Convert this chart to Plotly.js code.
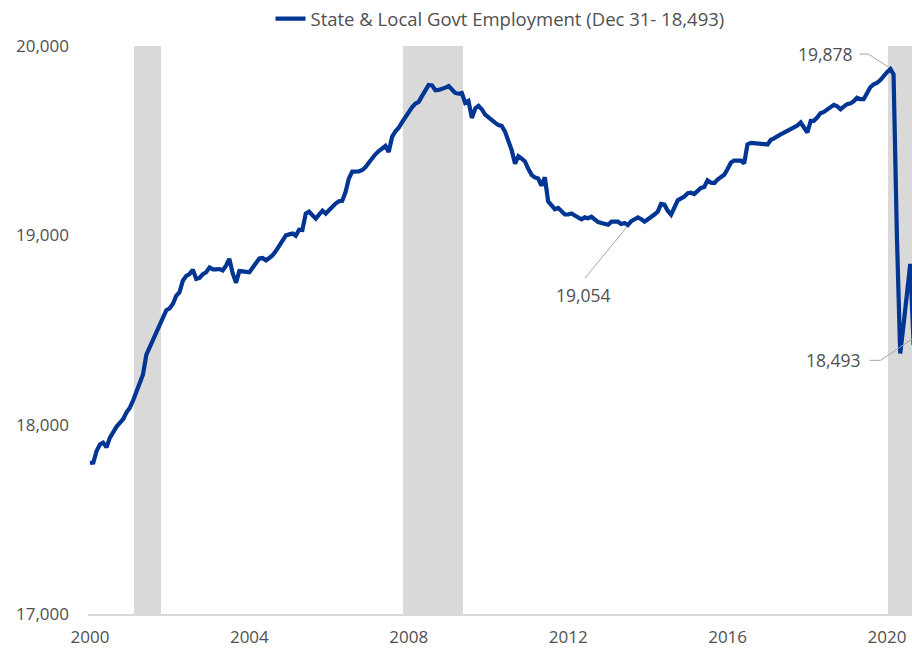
<!DOCTYPE html>
<html>
<head>
<meta charset="utf-8">
<script src="https://cdn.plot.ly/plotly-3.0.1.min.js"></script>
<style>html,body{margin:0;padding:0;background:#fff;}#chart{width:912px;height:651px;}</style>
</head>
<body>
<div id="chart"></div>
<script>
// Monthly State & Local Government employment (thousands), Jan 2000 - Dec 2020
const startYear = 2000;
const employment = [
  // 2000
  17798, 17800, 17860, 17895, 17905, 17880, 17930, 17965, 17990, 18010, 18030, 18065,
  // 2001
  18090, 18130, 18170, 18220, 18265, 18370, 18410, 18440, 18480, 18520, 18575, 18605,
  // 2002
  18615, 18640, 18680, 18700, 18760, 18785, 18795, 18818, 18770, 18775, 18795, 18805,
  // 2003
  18830, 18820, 18820, 18822, 18815, 18840, 18876, 18800, 18750, 18812, 18810, 18808,
  // 2004
  18805, 18830, 18855, 18878, 18880, 18868, 18880, 18895, 18918, 18945, 18975, 19000,
  // 2005
  19005, 19010, 18998, 19030, 19028, 19115, 19125, 19105, 19088, 19110, 19130, 19115,
  // 2006
  19135, 19155, 19168, 19180, 19182, 19230, 19300, 19337, 19335, 19338, 19345, 19360,
  // 2007
  19385, 19410, 19428, 19445, 19462, 19472, 19440, 19520, 19550, 19568, 19598, 19625,
  // 2008
  19650, 19678, 19695, 19705, 19735, 19765, 19794, 19792, 19766, 19768, 19772, 19780,
  // 2009
  19788, 19770, 19752, 19748, 19752, 19700, 19710, 19620, 19670, 19684, 19665, 19638,
  // 2010
  19622, 19608, 19595, 19583, 19578, 19548, 19505, 19450, 19378, 19418, 19405, 19390,
  // 2011
  19350, 19318, 19306, 19300, 19262, 19306, 19180, 19155, 19138, 19145, 19128, 19110,
  // 2012
  19110, 19115, 19105, 19095, 19085, 19095, 19090, 19098, 19085, 19070, 19065, 19060,
  // 2013
  19056, 19072, 19072, 19072, 19060, 19065, 19054, 19075, 19085, 19095, 19085, 19072,
  // 2014
  19085, 19095, 19110, 19125, 19166, 19162, 19130, 19109, 19150, 19185, 19195, 19205,
  // 2015
  19222, 19225, 19218, 19238, 19250, 19255, 19290, 19278, 19276, 19295, 19305, 19320,
  // 2016
  19350, 19385, 19395, 19397, 19395, 19380, 19480, 19488, 19487, 19485, 19488, 19482,
  // 2017
  19480, 19505, 19512, 19520, 19533, 19542, 19552, 19560, 19568, 19580, 19596, 19570,
  // 2018
  19543, 19605, 19605, 19622, 19645, 19652, 19663, 19680, 19689, 19682, 19666, 19680,
  // 2019
  19693, 19697, 19708, 19727, 19719, 19719, 19755, 19782, 19798, 19805, 19820, 19845,
  // 2020
  19862, 19878, 19850, 18990, 18376, 18530, 18690, 18849, 18420, 18460, 18480, 18493
];
const seriesName = 'State & Local Govt Employment (Dec 31- 18,493)';
const xTickLabels = ['2000', '2004', '2008', '2012', '2016', '2020'];
const yTickValues = [17000, 18000, 19000, 20000];
const yTickLabels = ['17,000', '18,000', '19,000', '20,000'];
const recessionStarts = ['2001-02-08', '2007-11-09', '2020-01-10'];
const recessionEnds = ['2001-10-13', '2009-05-12', '2021-06-01'];
// Annotated points (index into monthly series)
const peakIndex = 241;     // Feb 2020: 19,878
const troughIndex = 162;   // Jul 2013: 19,054
const lastIndex = 251;     // Dec 2020: 18,493

function pad(n) { return n < 10 ? '0' + n : '' + n; }
const dates = employment.map((v, i) => {
  const y = startYear + Math.floor(i / 12);
  const m = (i % 12) + 1;
  return y + '-' + pad(m) + '-01';
});

const navy = '#003594';
const textColor = '#505050';
const leaderColor = '#a6a6a6';
const fontFamily = 'Open Sans, Lato, sans-serif';

const shapes = [];
for (let i = 0; i < recessionStarts.length; i++) {
  shapes.push({
    type: 'rect', xref: 'x', yref: 'paper',
    x0: recessionStarts[i], x1: recessionEnds[i], y0: 0, y1: 1,
    fillcolor: '#d9d9d9', line: {width: 0}, layer: 'below'
  });
}
function leader(idx, pts) {
  for (let k = 0; k < pts.length - 1; k++) {
    shapes.push({
      type: 'line', xref: 'x', yref: 'y',
      xsizemode: 'pixel', ysizemode: 'pixel',
      xanchor: dates[idx], yanchor: employment[idx],
      x0: pts[k][0], y0: pts[k][1], x1: pts[k + 1][0], y1: pts[k + 1][1],
      line: {color: leaderColor, width: 1}
    });
  }
}
leader(peakIndex, [[-2, 2], [-22, 15], [-31, 15]]);
leader(troughIndex, [[-1, -2], [-43, -53]]);
leader(lastIndex, [[0, 0], [-43, -29], [-54, -29]]);

const fmt = v => v.toLocaleString('en-US');
const annFont = {family: fontFamily, size: 17.5, color: textColor};
const annotations = [
  {x: dates[peakIndex], y: employment[peakIndex], xref: 'x', yref: 'y',
   text: fmt(employment[peakIndex]), showarrow: false, xanchor: 'right', yanchor: 'middle',
   xshift: -35, yshift: 15, font: annFont},
  {x: dates[troughIndex], y: employment[troughIndex], xref: 'x', yref: 'y',
   text: fmt(employment[troughIndex]), showarrow: false, xanchor: 'center', yanchor: 'middle',
   xshift: -44, yshift: -70, font: annFont},
  {x: 0.94, y: employment[lastIndex], xref: 'paper', yref: 'y',
   text: fmt(employment[lastIndex]), showarrow: false, xanchor: 'right', yanchor: 'middle',
   yshift: -29, font: annFont}
];

const trace = {
  x: dates, y: employment, type: 'scatter', mode: 'lines',
  name: seriesName, showlegend: true,
  line: {color: navy, width: 4.2, shape: 'linear'},
  hoverinfo: 'x+y'
};

const layout = {
  width: 912, height: 651,
  margin: {l: 88, r: 0, t: 45, b: 37, pad: 0},
  paper_bgcolor: '#ffffff', plot_bgcolor: '#ffffff',
  font: {family: fontFamily, size: 17, color: textColor},
  showlegend: true,
  legend: {orientation: 'h', x: 0.5, xanchor: 'center', y: 1.047, yanchor: 'middle',
           font: {family: fontFamily, size: 18.5, color: textColor}, bgcolor: 'rgba(0,0,0,0)'},
  xaxis: {
    type: 'date', range: ['1999-12-14', '2020-08-17'],
    tickmode: 'array', tickvals: xTickLabels.map(y => y + '-01-01'), ticktext: xTickLabels,
    ticks: '', showgrid: false, zeroline: false,
    showline: true, linecolor: '#d9d9d9', linewidth: 1.5,
    ticklabelstandoff: 7,
    tickfont: {family: fontFamily, size: 17, color: textColor}
  },
  yaxis: {
    range: [17000, 20000], tickmode: 'array', tickvals: yTickValues, ticktext: yTickLabels,
    ticks: '', showgrid: false, zeroline: false, showline: false,
    ticklabelstandoff: 18,
    tickfont: {family: fontFamily, size: 17, color: textColor}
  },
  shapes: shapes,
  annotations: annotations
};

Plotly.newPlot('chart', [trace], layout, {displayModeBar: false, staticPlot: true});
</script>
</body>
</html>
